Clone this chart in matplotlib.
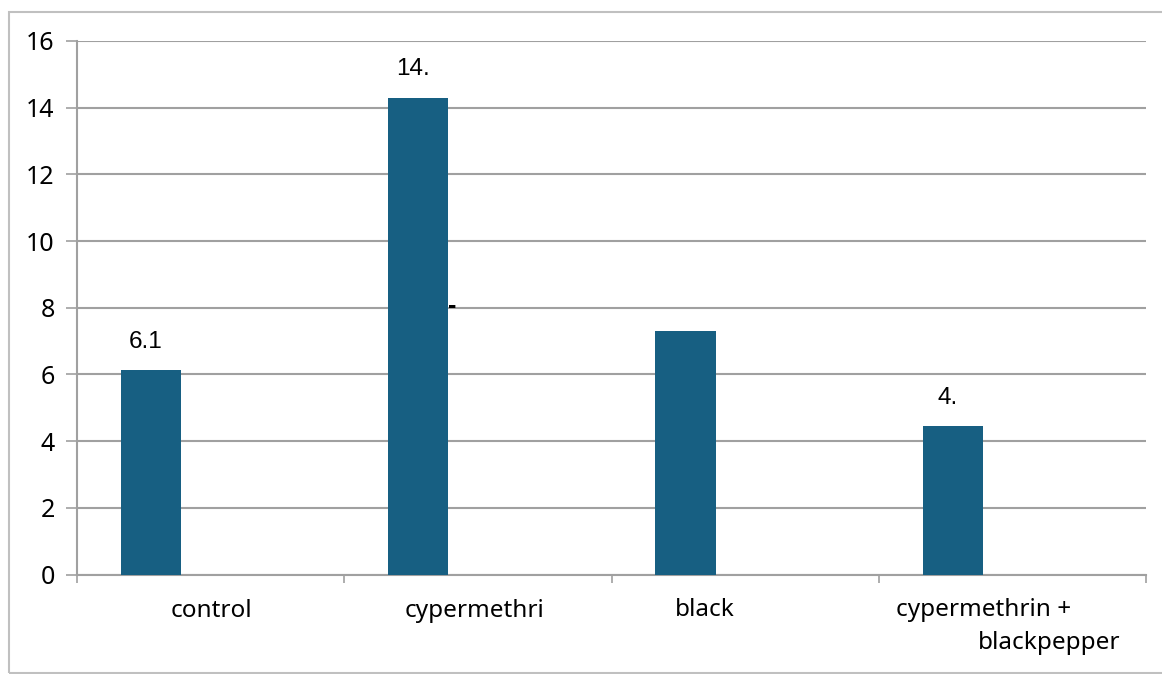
import matplotlib.pyplot as plt
from matplotlib.patches import Rectangle

# Data
groups = ['control', 'cypermethri', 'black', 'cypermethrin +\nblackpepper']
values = [6.13, 14.3, 7.3, 4.45]
value_labels = ['6.1', '14.', '', '4.']
y_ticks = [0, 2, 4, 6, 8, 10, 12, 14, 16]

bar_color = '#175f82'
grid_color = '#a0a0a0'

fig = plt.figure(figsize=(11.62, 6.74), dpi=100)
ax = fig.add_axes([77 / 1162, 1 - 574.5 / 674, (1146 - 77) / 1162, (574.5 - 41) / 674])

# bars sit left of the category centre
offset = -0.223
width = 0.225
xs = [i + offset for i in range(len(groups))]
ax.bar(xs, values, width=width, color=bar_color, zorder=3)

for x, v, lab in zip(xs, values, value_labels):
    if lab:
        ax.text(x - 0.02, v + 0.85, lab, ha='center', va='center', fontsize=17.5,
                family='Liberation Sans', color='black')

# small stray dash beside the tall bar
ax.text(1 + offset + width / 2 - 0.003, 8.05, '-', ha='left', va='center', fontsize=18,
        family='Liberation Sans', fontweight='bold', color='black')

ax.set_xlim(-0.5, len(groups) - 0.5)
ax.set_ylim(0, 16)
ax.set_yticks(y_ticks)
ax.set_yticklabels([str(t) for t in y_ticks], family='Noto Sans', fontsize=18)
ax.tick_params(axis='y', length=8, width=1.2, color=grid_color, pad=8)
ax.yaxis.grid(True, color=grid_color, linewidth=1.5, zorder=0)

# category ticks at the slot boundaries, labels drawn as text
ax.set_xticks([i - 0.5 for i in range(len(groups) + 1)])
ax.set_xticklabels([])
ax.tick_params(axis='x', length=6, width=1.2, color=grid_color, direction='out')

cat_text = [(0.002, -1.1, 'control'), (0.987, -1.1, 'cypermethri'),
            (1.848, -1.05, 'black'), (2.893, -1.05, 'cypermethrin +'),
            (3.137, -2.05, 'blackpepper')]
for x, y, lab in cat_text:
    ax.text(x, y, lab, ha='center', va='center', fontsize=17.5, family='Noto Sans',
            clip_on=False)

for side in ['top', 'right']:
    ax.spines[side].set_visible(False)
ax.spines['left'].set_color(grid_color)
ax.spines['left'].set_linewidth(1.5)
ax.spines['bottom'].set_color(grid_color)
ax.spines['bottom'].set_linewidth(1.5)
ax.set_axisbelow(True)

# outer chart frame
fig.patches.append(Rectangle((9 / 1162, 1 / 674), 1.2, 661 / 674, transform=fig.transFigure,
                             fill=False, edgecolor='#c0c0c0', linewidth=1.5))

fig.savefig('out.png', dpi=100)
